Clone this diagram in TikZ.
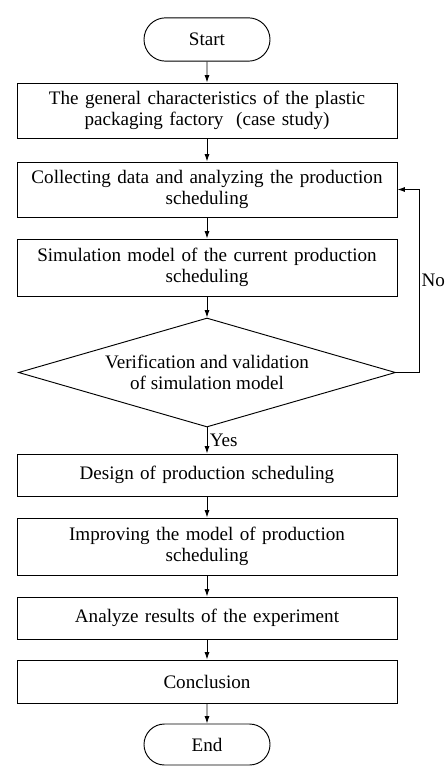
\documentclass[tikz,border=0pt]{standalone}
\usepackage{fontspec}
\setmainfont{Liberation Serif}
\usetikzlibrary{arrows.meta,shapes.geometric,shapes.misc}

\begin{document}
\begin{tikzpicture}[x=0.03cm, y=-0.03cm, >={Latex[length=2.2mm,width=1.5mm]},
  flowtext/.style={font=\fontsize{16.3}{18}\selectfont},
  procbox/.style={draw, line width=0.8pt, flowtext, minimum width=11.4cm,
    text width=11.2cm, align=center, inner sep=0pt},
  termbox/.style={draw, line width=0.8pt, flowtext, rounded rectangle,
    minimum width=3.78cm, minimum height=1.3cm, inner sep=0pt},
  checkbox/.style={draw, line width=0.8pt, flowtext, diamond, aspect=3.46,
    align=center, minimum width=11.31cm, minimum height=3.27cm, inner sep=0pt},
  flow/.style={->, line width=0.8pt}]

\useasboundingbox (0,0) rectangle (444,766);

% ---------- nodes ----------
\node[termbox] (start) at (207,39.5) {Start};
\node[procbox, minimum height=1.65cm] (factory) at (207,110.5)
  {The general characteristics of the plastic\\packaging factory\ \ (case study)};
\node[procbox, minimum height=1.65cm] (collect) at (207,189.5)
  {Collecting data and analyzing the production\\scheduling};
\node[procbox, minimum height=1.71cm] (simmodel) at (207,267.5)
  {Simulation model of the current production\\scheduling};
\node[checkbox] (check) at (207,372.5)
  {Verification and validation\\of simulation model};
\node[procbox, minimum height=1.26cm] (design) at (207,475)
  {Design of production scheduling};
\node[procbox, minimum height=1.71cm] (improve) at (207,546.5)
  {Improving the model of production\\scheduling};
\node[procbox, minimum height=1.26cm] (analyze) at (207,618)
  {Analyze results of the experiment};
\node[procbox, minimum height=1.29cm] (concl) at (207,681.5)
  {Conclusion};
\node[termbox, minimum height=1.23cm] (end) at (207,744.5) {End};

% ---------- connectors ----------
\draw[flow] (start) -- (factory);
\draw[flow] (factory) -- (collect);
\draw[flow] (collect) -- (simmodel);
\draw[flow] (simmodel) -- (check);
\draw[flow] (check) -- node[flowtext, right, inner sep=2pt] {Yes} (design);
\draw[flow] (design) -- (improve);
\draw[flow] (improve) -- (analyze);
\draw[flow] (analyze) -- (concl);
\draw[flow] (concl) -- (end);

% ---------- loop back ----------
\coordinate (noturn) at (419,372.5);
\draw[flow] (check.east) -- (noturn) |- (collect.east);
\node[flowtext, anchor=west, inner sep=2pt] (nolabel) at (419,280) {No};

\end{tikzpicture}
\end{document}
